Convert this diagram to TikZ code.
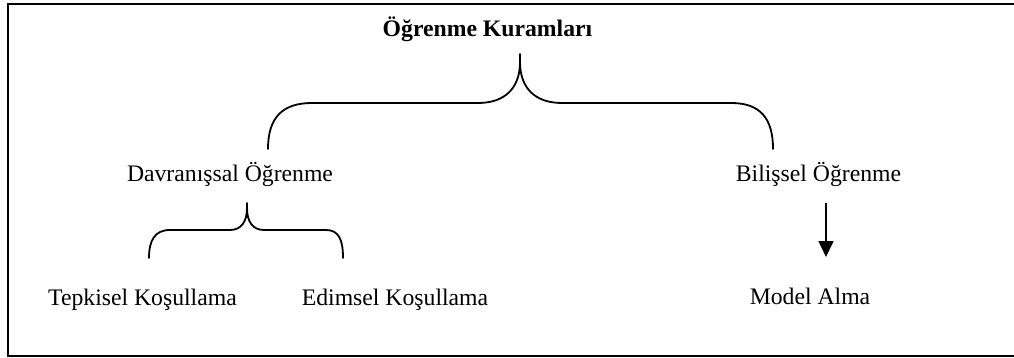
\documentclass[tikz,border=0pt]{standalone}
\usepackage{fontspec}
\setmainfont{Liberation Serif}
\usetikzlibrary{arrows.meta}
\begin{document}
\begin{tikzpicture}[x=1pt,y=-1pt,
  lbl/.style={anchor=base,inner sep=0pt,font=\fontsize{23.7}{28}\selectfont},
  brace/.style={line width=1.8pt,line cap=round,line join=round},
  frame/.style={line width=2pt}]
\useasboundingbox (0,0) rectangle (1014,358);
% frame (right side lies outside the picture)
\draw[frame] (1030,4.5) -- (8,4.5) -- (8,355.5) -- (1030,355.5);
% texts
\node[lbl,font=\fontsize{23.7}{28}\selectfont\bfseries] (top) at (487.5,37) {Öğrenme Kuramları};
\node[lbl] (davr) at (230,182) {Davranışsal Öğrenme};
\node[lbl] (bil) at (818.5,182) {Bilişsel Öğrenme};
\node[lbl] (tep) at (142.5,305) {Tepkisel Koşullama};
\node[lbl] (edi) at (395,305) {Edimsel Koşullama};
\node[lbl] (mod) at (810,304) {Model Alma};
% top brace
\coordinate (bt) at (520,54);
\coordinate (bl) at (268,149);
\coordinate (br) at (773,149);
\draw[brace] (bl) .. controls (268,118) and (282,103) .. (312,103) -- (478,103)
  .. controls (505,103) and (520,88) .. (520,62) -- (bt)
  -- (520,62) .. controls (520,88) and (535,103) .. (562,103) -- (731,103)
  .. controls (760,103) and (773,118) .. (br);
% small brace
\coordinate (st) at (247,203);
\coordinate (sl) at (149,258);
\coordinate (sr) at (343,258);
\draw[brace] (sl) .. controls (149,240) and (155,230) .. (170,230) -- (230,230)
  .. controls (241,230) and (247,222) .. (247,208) -- (st)
  -- (247,208) .. controls (247,222) and (253,230) .. (264,230) -- (326,230)
  .. controls (339,230) and (343,240) .. (sr);
% arrow
\coordinate (a1) at (826,203);
\coordinate (a2) at (826,257);
\draw[line width=1.6pt,-{Triangle[length=16pt,width=15pt]}] (a1) -- (a2);
\end{tikzpicture}
\end{document}
